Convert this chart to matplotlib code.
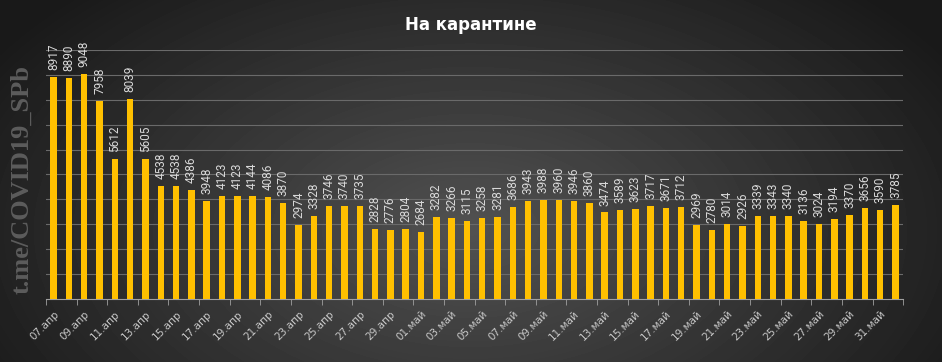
import numpy as np
import matplotlib.pyplot as plt

# дни с 07.апр по 01.июн
months = ['апр'] * 24 + ['май'] * 31 + ['июн']
days = list(range(7, 31)) + list(range(1, 32)) + [1]
dates = ['%02d.%s' % (d, m) for d, m in zip(days, months)]

values = [8917, 8890, 9048, 7958, 5612, 8039, 5605, 4538, 4538, 4386,
          3948, 4123, 4123, 4144, 4086, 3870, 2974, 3328, 3746, 3740,
          3735, 2828, 2776, 2804, 2684, 3282, 3266, 3115, 3258, 3281,
          3686, 3943, 3988, 3960, 3946, 3860, 3474, 3589, 3623, 3717,
          3671, 3712, 2969, 2780, 3014, 2926, 3339, 3343, 3340, 3136,
          3024, 3194, 3370, 3656, 3590, 3785]

fig = plt.figure(figsize=(9.42, 3.62), dpi=100)

# radial gradient background
bg = fig.add_axes([0, 0, 1, 1], zorder=-1)
yy, xx = np.mgrid[0:362, 0:942]
r = np.sqrt(((xx - 470) / 560.0) ** 2 + ((yy - 230) / 330.0) ** 2)
shade = np.clip(0.32 - 0.22 * r, 0.1, 0.32)
bg.imshow(shade, cmap='gray', vmin=0, vmax=1, aspect='auto',
          extent=[0, 1, 0, 1], origin='upper')
bg.axis('off')

ax = fig.add_axes([0.0488, 0.174, 0.91, 0.688])
ax.patch.set_alpha(0)
x = np.arange(len(values))
ax.bar(x, values, width=0.42, color='#ffc000', zorder=3)
for xi, v in zip(x, values):
    ax.text(xi, v + 280, str(v), rotation=90, ha='center', va='bottom',
            color='#d9d9d9', fontsize=8.5, family=['Roboto', 'DejaVu Sans'])

ax.set_xlim(-0.5, len(values) - 0.5)
ax.set_ylim(0, 10000)
ax.set_yticks(np.arange(1000, 10001, 1000))
ax.yaxis.grid(True, color='#6a6a6a', linewidth=0.8)
ax.tick_params(axis='y', left=False, labelleft=False)

ax.set_xticks(x[::2])
ax.set_xticklabels(dates[::2], rotation=45, ha='right', rotation_mode='anchor',
                   color='#c8c8c8', fontsize=7.5)
ax.set_xticks(np.arange(-0.5, len(values), 2), minor=True)
ax.tick_params(axis='x', which='major', length=0, pad=7)
ax.tick_params(axis='x', which='minor', length=4, color='#a0a0a0')

for s in ['top', 'right', 'left']:
    ax.spines[s].set_visible(False)
ax.spines['bottom'].set_color('#a0a0a0')

fig.text(0.5, 0.93, 'На карантине', ha='center', va='center', color='white',
         fontsize=12, fontweight='bold')
fig.text(0.023, 0.505, 't.me/COVID19_SPb', rotation=90, ha='center', va='center',
         color='#5c5c5c', fontsize=19, family='Liberation Serif', fontweight='bold')

fig.savefig('out.png', dpi=100)
